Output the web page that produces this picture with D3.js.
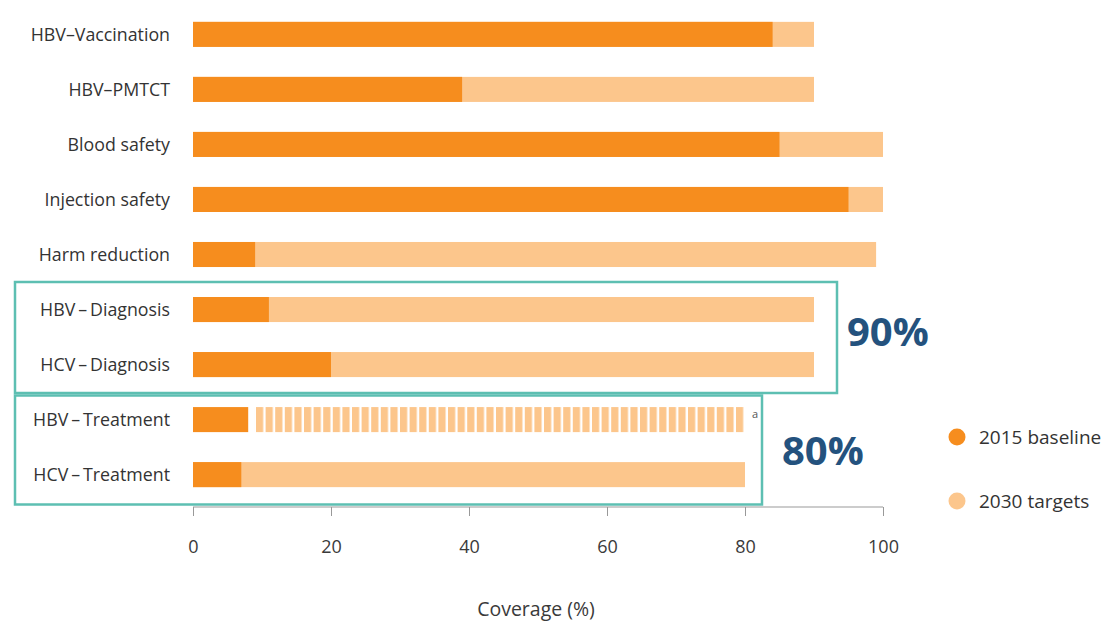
<!DOCTYPE html>
<html>
<head>
<meta charset="utf-8">
<script src="https://cdn.jsdelivr.net/npm/d3@7"></script>
<style>
  body { margin: 0; background: #fff; }
  text { font-family: "Open Sans", sans-serif; }
</style>
</head>
<body>
<div id="chart"></div>
<script>
var categories = ["HBV\u2013Vaccination", "HBV\u2013PMTCT", "Blood safety", "Injection safety", "Harm reduction",
                  "HBV\u2009\u2013\u2009Diagnosis", "HCV\u2009\u2013\u2009Diagnosis", "HBV\u2009\u2013\u2009Treatment", "HCV\u2009\u2013\u2009Treatment"];
var baseline2015 = [84, 39, 85, 95, 9, 11, 20, 8, 7];
var targets2030 = [90, 90, 100, 100, 99, 90, 90, 80, 80];
var striped = [false, false, false, false, false, false, false, true, false];
var xTicks = [0, 20, 40, 60, 80, 100];
var legendLabels = ["2015 baseline", "2030 targets"];
var boxLabels = ["90%", "80%"];

var width = 1104, height = 621;
var darkOrange = "#f68d1e", lightOrange = "#fcc68c", teal = "#5dbfb2";

var svg = d3.select("#chart").append("svg").attr("width", width).attr("height", height);

var defs = svg.append("defs");
var pat = defs.append("pattern").attr("id", "stripes")
    .attr("patternUnits", "userSpaceOnUse").attr("x", 256).attr("width", 9.6).attr("height", 40);
pat.append("rect").attr("width", 7.2).attr("height", 40).attr("fill", lightOrange);

var x = d3.scaleLinear().domain([0, 100]).range([193, 883]);
var y = d3.scaleBand().domain(categories).range([7, 502]).paddingInner(0.545).paddingOuter(0.27);

// target bars (light)
svg.selectAll("rect.target").data(categories).enter().append("rect")
    .attr("class", "target")
    .attr("x", function(d, i){ return striped[i] ? x(baseline2015[i]) + 6 : x(0); })
    .attr("y", function(d){ return y(d); })
    .attr("width", function(d, i){ return striped[i] ? x(targets2030[i]) - x(baseline2015[i]) - 6 : x(targets2030[i]) - x(0); })
    .attr("height", y.bandwidth())
    .attr("fill", function(d, i){ return striped[i] ? "url(#stripes)" : lightOrange; });

// baseline bars (dark)
svg.selectAll("rect.base").data(categories).enter().append("rect")
    .attr("class", "base")
    .attr("x", x(0))
    .attr("y", function(d){ return y(d); })
    .attr("width", function(d, i){ return x(baseline2015[i]) - x(0); })
    .attr("height", y.bandwidth())
    .attr("fill", darkOrange);

// superscript note
svg.append("text").attr("x", x(80) + 7).attr("y", y(categories[7]) + 11)
    .attr("font-size", 11).attr("fill", "#555").text("a");

// category labels
svg.selectAll("text.cat").data(categories).enter().append("text")
    .attr("class", "cat")
    .attr("x", 170).attr("y", function(d){ return y(d) + y.bandwidth() / 2; })
    .attr("dy", "0.35em").attr("text-anchor", "end")
    .attr("font-size", 17.8).attr("fill", "#333")
    .text(function(d){ return d; });

// x axis
var axis = svg.append("g").attr("transform", "translate(0,507)")
    .call(d3.axisBottom(x).tickValues(xTicks).tickSize(9).tickPadding(24));
axis.select(".domain").attr("stroke", "#999").attr("d", "M" + x(0) + ",0H" + x(100));
axis.selectAll(".tick line").attr("stroke", "#999");
axis.selectAll(".tick text").attr("font-family", "Open Sans, sans-serif").attr("font-size", 18).attr("fill", "#3a3a3a");

svg.append("text").attr("x", 536).attr("y", 616).attr("text-anchor", "middle")
    .attr("font-size", 19.5).attr("fill", "#3a3a3a").text("Coverage (%)");

// highlight boxes
svg.append("rect").attr("x", 15).attr("y", 282).attr("width", 822).attr("height", 111)
    .attr("fill", "none").attr("stroke", teal).attr("stroke-width", 2.5);
svg.append("rect").attr("x", 15).attr("y", 395.5).attr("width", 747).attr("height", 109)
    .attr("fill", "none").attr("stroke", teal).attr("stroke-width", 2.5);

svg.append("text").attr("x", 847).attr("y", 346).attr("font-size", 40).attr("font-weight", "bold")
    .attr("fill", "#24527e").text(boxLabels[0]);
svg.append("text").attr("x", 782).attr("y", 465).attr("font-size", 40).attr("font-weight", "bold")
    .attr("fill", "#24527e").text(boxLabels[1]);

// legend
var legend = svg.selectAll("g.legend").data(legendLabels).enter().append("g")
    .attr("class", "legend")
    .attr("transform", function(d, i){ return "translate(957," + (437 + i * 64) + ")"; });
legend.append("circle").attr("r", 8.5)
    .attr("fill", function(d, i){ return i == 0 ? darkOrange : lightOrange; });
legend.append("text").attr("x", 22).attr("dy", "0.35em")
    .attr("font-size", 19).attr("fill", "#333").text(function(d){ return d; });
</script>
</body>
</html>
